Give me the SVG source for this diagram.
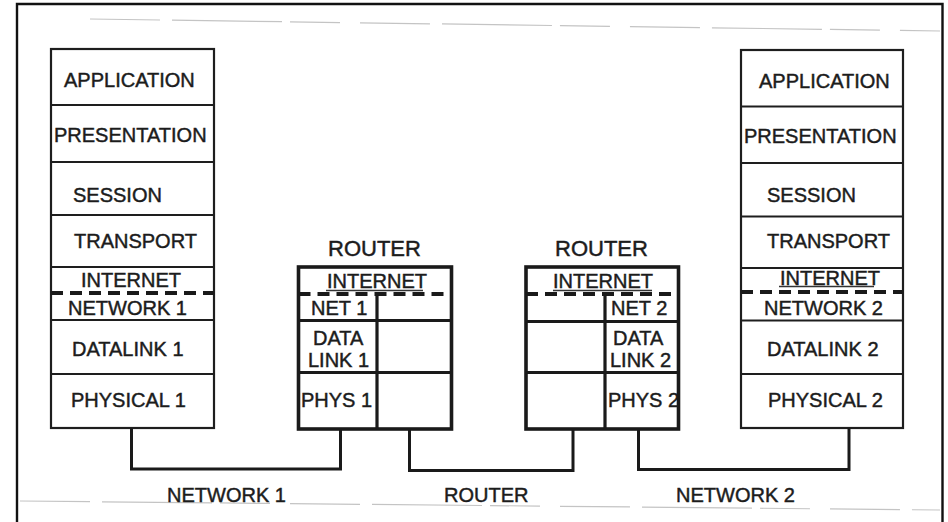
<svg xmlns="http://www.w3.org/2000/svg" width="948" height="522" viewBox="0 0 948 522">
<style>
  text { font-family: "Liberation Sans", Arial, sans-serif; font-size: 20px; fill: #1c1c1c; stroke: #1c1c1c; stroke-width: 0.45; }
  .big { font-size: 22px; }
  .stack { fill: none; stroke: #1e1e1e; stroke-width: 2.2; }
  .rbox { fill: none; stroke: #1a1a1a; stroke-width: 3.6; }
  .rline { fill: none; stroke: #1a1a1a; stroke-width: 3.2; }
  .dash { fill: none; stroke: #1a1a1a; stroke-width: 4; stroke-dasharray: 12 7; }
  .ul { fill: none; stroke: #333; stroke-width: 1.3; }
  .conn { fill: none; stroke: #1a1a1a; stroke-width: 3; stroke-linejoin: miter; }
  .faint { fill: none; stroke: #c4c4c4; stroke-width: 1.2; stroke-dasharray: 70 12 110 8 50 20; }
</style>
<rect x="0" y="0" width="948" height="522" fill="#ffffff"/>
<!-- outer frame -->
<path d="M17,530 V4 H942.5 V530" fill="none" stroke="#111" stroke-width="2.4"/>
<!-- faint scan lines -->
<path class="faint" d="M90,19 L940,31"/>
<path class="faint" d="M20,501 L940,510"/>

<g id="host-left">
  <rect class="stack" x="51" y="49" width="163" height="379"/>
  <path class="stack" d="M51,105 H214 M51,162 H214 M51,215 H214 M51,267 H214 M51,320 H214 M51,374 H214"/>
  <path class="dash" d="M51,293 H214"/>
  <text x="64" y="87">APPLICATION</text>
  <text x="54" y="142">PRESENTATION</text>
  <text x="73" y="202">SESSION</text>
  <text x="74" y="248">TRANSPORT</text>
  <text x="81" y="287">INTERNET</text>
  <text x="68" y="315">NETWORK 1</text>
  <text x="72" y="356">DATALINK 1</text>
  <text x="71" y="407">PHYSICAL 1</text>
</g>

<g id="router-1">
  <text class="big" x="328" y="256">ROUTER</text>
  <rect class="rbox" x="298.5" y="267" width="153" height="162"/>
  <path class="dash" d="M298.5,294 H451.5"/>
  <path class="rline" d="M377,295 V429 M298.5,320.5 H451.5 M298.5,372.5 H451.5"/>
  <path class="ul" d="M326,290.5 H423"/>
  <text x="327" y="288">INTERNET</text>
  <text x="311" y="315">NET 1</text>
  <text x="313" y="345">DATA</text>
  <text x="308" y="367">LINK 1</text>
  <text x="301" y="407">PHYS 1</text>
</g>

<g id="router-2">
  <text class="big" x="555" y="256">ROUTER</text>
  <rect class="rbox" x="526" y="267" width="152.5" height="162"/>
  <path class="dash" d="M526,294 H678.5"/>
  <path class="rline" d="M605,295 V429 M526,321.5 H678.5 M526,372.5 H678.5"/>
  <path class="ul" d="M553,290.5 H652"/>
  <text x="553" y="288">INTERNET</text>
  <text x="611" y="315">NET 2</text>
  <text x="613" y="345">DATA</text>
  <text x="610" y="367">LINK 2</text>
  <text x="608" y="407">PHYS 2</text>
</g>

<g id="host-right">
  <rect class="stack" x="741" y="50" width="162" height="378"/>
  <path class="stack" d="M741,106.5 H903 M741,163 H903 M741,216.5 H903 M741,268 H903 M741,320.5 H903 M741,374 H903"/>
  <path class="dash" d="M741,292 H903"/>
  <path class="ul" d="M779,286.5 H874"/>
  <text x="759" y="88">APPLICATION</text>
  <text x="744" y="143">PRESENTATION</text>
  <text x="767" y="202">SESSION</text>
  <text x="767" y="248">TRANSPORT</text>
  <text x="780" y="285">INTERNET</text>
  <text x="764" y="315">NETWORK 2</text>
  <text x="767" y="356">DATALINK 2</text>
  <text x="768" y="407">PHYSICAL 2</text>
</g>

<g id="connectors">
  <path class="conn" d="M131.5,428 V469 H340.5 V429"/>
  <path class="conn" d="M409.5,429 V470.5 H573 V429"/>
  <path class="conn" d="M638.5,429 V469.5 H849 V428"/>
</g>

<g id="labels">
  <text x="167" y="501.5">NETWORK 1</text>
  <text x="444" y="501.5">ROUTER</text>
  <text x="676" y="501.5">NETWORK 2</text>
</g>
</svg>
